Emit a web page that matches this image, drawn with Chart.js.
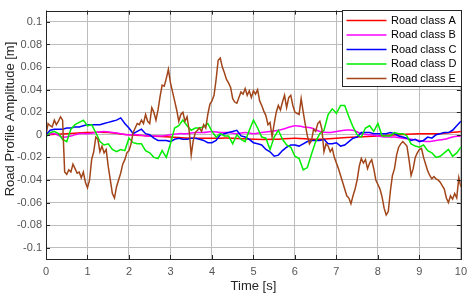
<!DOCTYPE html>
<html>
<head>
<meta charset="utf-8">
<script src="https://cdn.jsdelivr.net/npm/chart.js@4.4.1/dist/chart.umd.min.js"></script>
<style>
  html, body { margin: 0; padding: 0; background: #fff; }
  #wrap { width: 473px; height: 296px; }
</style>
</head>
<body>
<div id="wrap"><canvas id="roadChart" width="473" height="296"></canvas></div>

<script>
  // series labels
  var seriesNames = ['Road class A', 'Road class B', 'Road class C', 'Road class D', 'Road class E'];

  // sample spacing of each series [s]
  var stepA = 0.5;
  var stepB = 0.2;
  var stepC = 0.1;
  var stepD = 0.1;
  var stepE = 0.05;

  // road profile amplitude [m]
  var roadA = [0.000, 0.001, 0.002, 0.002, 0.000, -0.001, -0.002, -0.003, -0.003, -0.003,
               -0.004, -0.004, -0.003, -0.004, -0.003, -0.002, -0.001, 0.000, 0.001, 0.001, 0.003];

  var roadB = [0.000, 0.001, -0.002, -0.001, 0.001, 0.001, 0.002, 0.003, 0.002, 0.001,
               0.000, 0.000, -0.001, -0.001, -0.001, 0.000, 0.001, 0.001, 0.002, 0.002,
               0.003, 0.002, 0.002, 0.001, 0.002, 0.001, 0.002, 0.003, 0.004, 0.006,
               0.008, 0.007, 0.006, 0.003, 0.002, 0.003, 0.004, 0.004, 0.001, 0.000,
               -0.001, -0.002, -0.002, -0.003, -0.004, -0.005, -0.006, -0.005, -0.004, -0.002, -0.001];

  var roadC = [0.000, 0.004, 0.005, 0.005, 0.005, 0.006, 0.006, 0.007, 0.007, 0.008,
               0.009, 0.009, 0.009, 0.009, 0.010, 0.011, 0.012, 0.013, 0.015, 0.010,
               0.006, 0.001, 0.003, 0.005, 0.001, 0.000, -0.003, -0.005, -0.005, -0.005,
               -0.006, -0.004, -0.003, -0.004, -0.004, -0.003, -0.003, -0.004, -0.005, -0.007,
               -0.007, -0.005, 0.000, 0.001, 0.002, 0.003, 0.004, -0.001, -0.002, -0.004,
               -0.007, -0.008, -0.009, -0.013, -0.015, -0.019, -0.018, -0.014, -0.011, -0.009,
               -0.009, -0.010, -0.008, -0.006, -0.005, -0.005, -0.005, -0.004, -0.008, -0.008,
               -0.007, -0.010, -0.009, -0.006, -0.003, -0.002, 0.002, 0.002, 0.002, 0.001,
               0.001, 0.001, 0.001, 0.002, 0.001, -0.001, -0.002, -0.003, -0.005, -0.004,
               -0.006, -0.005, -0.002, -0.003, 0.000, 0.001, 0.002, 0.002, 0.004, 0.008, 0.012];

  var roadD = [-0.002, 0.002, 0.003, 0.001, -0.004, -0.006, 0.005, 0.009, 0.011, 0.013,
               0.008, 0.009, 0.002, -0.006, -0.009, -0.008, -0.013, -0.015, -0.013, -0.014,
               -0.003, -0.007, -0.008, -0.008, -0.014, -0.016, -0.020, -0.021, -0.014, -0.020,
               -0.008, 0.006, 0.008, 0.013, 0.008, 0.004, 0.006, 0.006, 0.007, 0.010,
               0.003, -0.002, 0.001, -0.001, -0.001, -0.008, 0.000, -0.004, -0.006, 0.004,
               0.013, 0.006, -0.002, -0.003, -0.013, -0.002, 0.004, -0.004, -0.009, -0.011,
               -0.019, -0.021, -0.031, -0.029, -0.017, -0.006, 0.001, 0.004, 0.018, 0.023,
               0.019, 0.026, 0.026, 0.016, 0.007, 0.000, -0.002, 0.006, 0.008, 0.003,
               0.010, -0.001, -0.001, -0.001, 0.002, 0.001, 0.001, -0.001, -0.008, -0.010,
               -0.011, -0.009, -0.014, -0.016, -0.020, -0.019, -0.016, -0.013, -0.019, -0.016, -0.011];

  var roadE = [0.000, 0.010, 0.008, 0.007, 0.013, 0.009, 0.012, 0.016, 0.013, -0.033,
               -0.035, -0.031, -0.033, -0.026, -0.030, -0.034, -0.033, -0.038, -0.033, -0.042,
               -0.047, -0.040, -0.022, -0.015, -0.002, -0.004, -0.015, -0.010, -0.016, -0.013,
               -0.028, -0.040, -0.052, -0.056, -0.046, -0.040, -0.034, -0.026, -0.022, -0.016,
               -0.014,
               -0.008, 0.002, 0.006, 0.010, 0.009, 0.013, 0.010, 0.018, 0.012, 0.010,
               0.024, 0.020, 0.013, 0.022, 0.034, 0.044, 0.043, 0.050, 0.058, 0.046,
               0.038, 0.030, 0.022, 0.012, 0.018, 0.020, 0.012, 0.016, 0.004, -0.018,
               -0.005, 0.002, 0.004, 0.006, 0.003, 0.009, 0.006, 0.018, 0.027, 0.030,
               0.035, 0.049, 0.066, 0.068, 0.060, 0.055, 0.049, 0.046, 0.042, 0.032,
               0.029, 0.028, 0.033, 0.038, 0.036, 0.041, 0.035, 0.039, 0.033, 0.039,
               0.036, 0.040, 0.030, 0.026, 0.021, 0.017, 0.009, 0.011, -0.002, 0.010,
               0.020, 0.026, 0.022, 0.029, 0.035, 0.024, 0.033, 0.035, 0.026, 0.020,
               0.019, 0.018, 0.032, 0.020, 0.009, -0.001, -0.008, -0.005, 0.005, 0.003,
               0.010, 0.012, 0.005, -0.015, -0.008, -0.010, -0.015, -0.012, -0.020, -0.025,
               -0.030, -0.036, -0.042, -0.048, -0.054, -0.056, -0.061, -0.054, -0.048, -0.040,
               -0.028, -0.021, -0.025, -0.022, -0.030, -0.025, -0.022, -0.030, -0.040, -0.044,
               -0.048, -0.055, -0.065, -0.071, -0.068, -0.050, -0.036, -0.030, -0.018, -0.011,
               -0.008, -0.006, -0.008, -0.010, -0.022, -0.036, -0.030, -0.020, -0.016, -0.013,
               -0.012, -0.020, -0.026, -0.032, -0.036, -0.039, -0.037, -0.039, -0.040, -0.042,
               -0.045, -0.048, -0.056, -0.060, -0.054, -0.057, -0.052, -0.056, -0.038, -0.046];

  // axis ticks
  var xTicks = [0, 1, 2, 3, 4, 5, 6, 7, 8, 9, 10];
  var yTicks = [-0.1, -0.08, -0.06, -0.04, -0.02, 0, 0.02, 0.04, 0.06, 0.08, 0.1];
  var yTickLabels = ['-0.1', '-0.08', '-0.06', '-0.04', '-0.02', '0', '0.02', '0.04', '0.06', '0.08', '0.1'];

  var colors = ['#ff0000', '#ff00ff', '#0000ff', '#00ee00', '#a2461a'];
  var fontFam = '"Liberation Sans", Arial, Helvetica, sans-serif';

  function toPoints(vals, step) {
    return vals.map(function (v, i) { return { x: i * step, y: v }; });
  }

  var allSeries = [[roadA, stepA], [roadB, stepB], [roadC, stepC], [roadD, stepD], [roadE, stepE]];
  var datasets = allSeries.map(function (s, i) {
    return {
      label: seriesNames[i],
      data: toPoints(s[0], s[1]),
      borderColor: colors[i],
      borderWidth: 1.5,
      pointRadius: 0,
      tension: i < 2 ? 0.4 : 0,
      order: 5 - i
    };
  });

  // frame, inner ticks, axis titles and legend like the MATLAB figure
  var matlabLook = {
    id: 'matlabLook',
    afterDatasetsDraw: function (chart) {
      var c = chart.ctx, a = chart.chartArea;
      var sx = chart.scales.x, sy = chart.scales.y;
      c.save();
      c.strokeStyle = '#262626';
      c.lineWidth = 1;
      c.strokeRect(Math.round(a.left) + 0.5, Math.round(a.top) + 0.5, Math.round(a.right - a.left), Math.round(a.bottom - a.top));
      c.beginPath();
      xTicks.forEach(function (v) {
        var px = Math.round(sx.getPixelForValue(v)) + 0.5;
        c.moveTo(px, a.bottom); c.lineTo(px, a.bottom - 4);
        c.moveTo(px, a.top); c.lineTo(px, a.top + 4);
      });
      yTicks.forEach(function (v) {
        var py = Math.round(sy.getPixelForValue(v)) + 0.5;
        c.moveTo(a.left, py); c.lineTo(a.left + 4, py);
        c.moveTo(a.right, py); c.lineTo(a.right - 4, py);
      });
      c.stroke();

      // legend
      var lx = 342, ly = 10, lw = 119, lh = 76;
      c.fillStyle = '#ffffff';
      c.fillRect(lx, ly, lw, lh);
      c.strokeRect(lx + 0.5, ly + 0.5, lw, lh);
      c.font = '11px ' + fontFam;
      c.textBaseline = 'middle';
      c.textAlign = 'left';
      chart.data.datasets.forEach(function (ds, i) {
        var yy = ly + 10.5 + i * 14.5;
        c.strokeStyle = ds.borderColor;
        c.lineWidth = 1.6;
        c.beginPath(); c.moveTo(346.5, yy); c.lineTo(386.5, yy); c.stroke();
        c.fillStyle = '#000';
        c.fillText(ds.label, 391, yy);
      });

      // axis titles
      c.fillStyle = '#262626';
      c.font = '13px ' + fontFam;
      c.textAlign = 'center';
      c.fillText('Time [s]', (a.left + a.right) / 2, 286);
      c.translate(10, 119);
      c.rotate(-Math.PI / 2);
      c.fillText('Road Profile Amplitude [m]', 0, 0);
      c.restore();
    }
  };

  var ctxRoad = document.getElementById('roadChart').getContext('2d');
  var roadChart = new Chart(ctxRoad, {
    type: 'line',
    data: { datasets: datasets },
    options: {
      responsive: false,
      animation: false,
      devicePixelRatio: 1,
      layout: { padding: { left: 0, right: 9, top: 6, bottom: 0 } },
      plugins: { legend: { display: false }, tooltip: { enabled: false } },
      scales: {
        x: {
          type: 'linear',
          min: 0,
          max: 10,
          afterBuildTicks: function (s) { s.ticks = xTicks.map(function (v) { return { value: v }; }); },
          afterFit: function (s) { s.height = 37; },
          border: { display: false },
          grid: { color: '#bdbdbd', lineWidth: 1, drawTicks: false },
          ticks: { padding: 6, color: '#555', font: { family: fontFam, size: 11 }, maxRotation: 0,
                   callback: function (v) { return String(v); } }
        },
        y: {
          min: -0.11,
          max: 0.11,
          afterBuildTicks: function (s) { s.ticks = yTicks.map(function (v) { return { value: v }; }); },
          afterFit: function (s) { s.width = 46; },
          border: { display: false },
          grid: { color: '#bdbdbd', lineWidth: 1, drawTicks: false },
          ticks: { padding: 4, color: '#555', font: { family: fontFam, size: 11 },
                   callback: function (v, i) { return yTickLabels[i]; } }
        }
      }
    },
    plugins: [matlabLook]
  });
</script>
</body>
</html>
